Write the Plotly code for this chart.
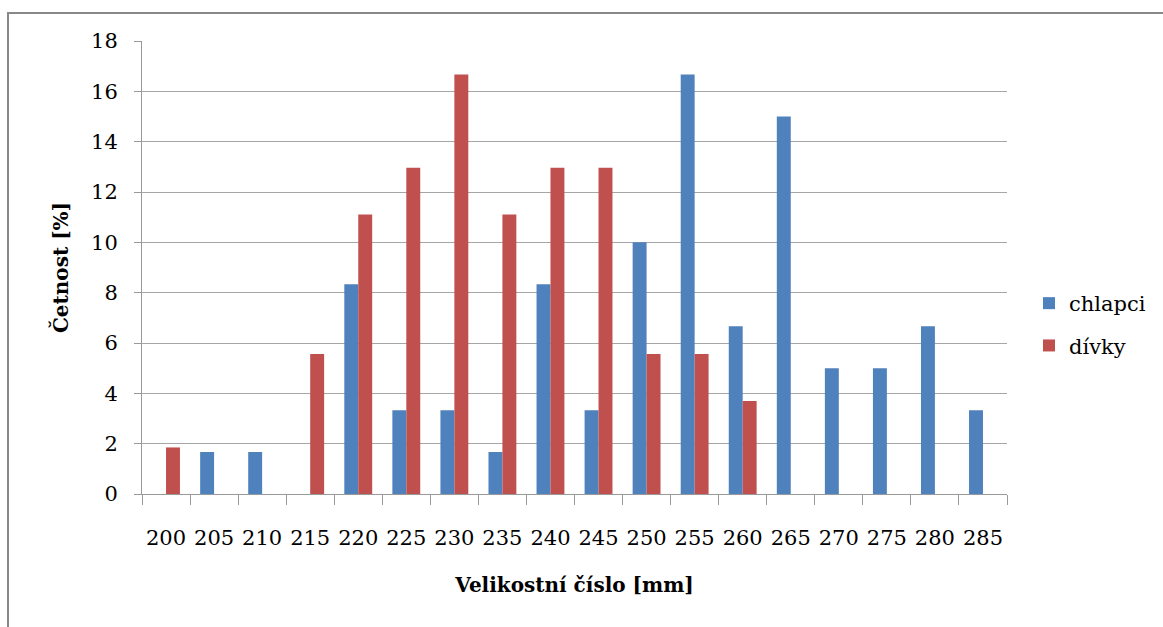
import plotly.graph_objects as go

sizes = ["200", "205", "210", "215", "220", "225", "230", "235", "240",
         "245", "250", "255", "260", "265", "270", "275", "280", "285"]
chlapci = [0, 1.67, 1.67, 0, 8.33, 3.33, 3.33, 1.67, 8.33,
           3.33, 10.0, 16.67, 6.67, 15.0, 5.0, 5.0, 6.67, 3.33]
divky = [1.85, 0, 0, 5.56, 11.11, 12.96, 16.67, 11.11, 12.96,
         12.96, 5.56, 5.56, 3.70, 0, 0, 0, 0, 0]
y_ticks = [0, 2, 4, 6, 8, 10, 12, 14, 16, 18]

W, H = 1163, 627
L, R, T, B = 142, 1007, 41, 494

FONT = "DejaVu Serif"
FS = 21

fig = go.Figure()
fig.add_trace(go.Bar(x=sizes, y=chlapci, name="chlapci", marker_color="#4F81BD",
                     marker_line_width=0, legendgroup="a"))
fig.add_trace(go.Bar(x=sizes, y=divky, name="dívky", marker_color="#C0504D",
                     marker_line_width=0, legendgroup="b"))

def px_x(x):
    return (x - L) / (R - L)

def px_y(y):
    return (B - y) / (B - T)

fig.update_layout(
    width=W, height=H,
    margin=dict(l=L, r=W - R, t=T, b=H - B, autoexpand=False),
    paper_bgcolor="white", plot_bgcolor="white",
    font=dict(family=FONT, size=FS, color="black"),
    barmode="group", bargap=0.42, bargroupgap=0,
    showlegend=True,
    legend=dict(x=px_x(1029), y=px_y(283), xanchor="left", yanchor="top",
                font=dict(family=FONT, size=FS, color="black"),
                tracegroupgap=12, bgcolor="rgba(0,0,0,0)"),
    xaxis=dict(
        type="category", tickson="boundaries", ticks="outside", ticklen=10,
        tickcolor="#999999", showline=True, linecolor="#999999", linewidth=1,
        showgrid=False, tickfont=dict(family=FONT, size=FS), tickangle=0,
        ticklabelstandoff=25,
        title=dict(text="<b>Velikostní číslo [mm]</b>",
                   font=dict(family=FONT, size=20), standoff=28),
    ),
    yaxis=dict(
        range=[0, 18], tickvals=y_ticks, ticks="outside", ticklen=7,
        tickcolor="#999999", showline=True, linecolor="#999999", linewidth=1,
        showgrid=True, gridcolor="#A6A6A6", gridwidth=1, zeroline=False,
        tickfont=dict(family=FONT, size=FS), ticklabelstandoff=12,
        title=dict(text="<b>Četnost [%]</b>",
                   font=dict(family=FONT, size=20), standoff=17),
    ),
    shapes=[dict(type="rect", xref="paper", yref="paper",
                 x0=px_x(8), x1=px_x(1200), y0=px_y(660), y1=px_y(13),
                 line=dict(color="#888888", width=2), fillcolor="rgba(0,0,0,0)",
                 layer="below")],
)

fig.write_html("out.html")
